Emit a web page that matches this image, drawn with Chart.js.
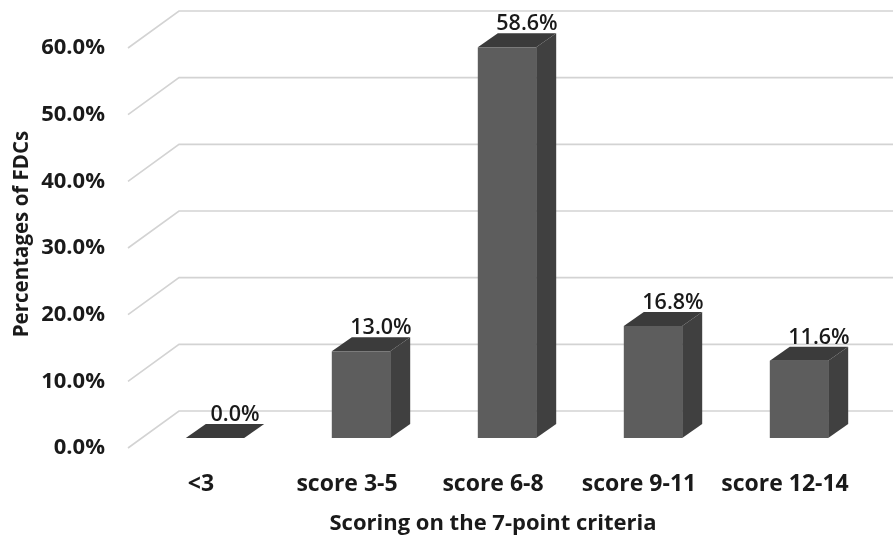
<!DOCTYPE html>
<html>
<head>
<meta charset="utf-8">
<script src="https://cdn.jsdelivr.net/npm/chart.js@4/dist/chart.umd.min.js"></script>
<style>
  html, body { margin: 0; padding: 0; background: #ffffff; }
  #wrap { width: 893px; height: 535px; position: relative; }
</style>
</head>
<body>
<div id="wrap"><canvas id="chart" width="893" height="535"></canvas></div>
<script>
// Share of FDCs per score band on the 7-point criteria
const categories = ['<3', 'score 3-5', 'score 6-8', 'score 9-11', 'score 12-14'];
const percentages = [0.0, 13.0, 58.6, 16.8, 11.6];
const yTicks = [0, 10, 20, 30, 40, 50, 60];
const xTitle = 'Scoring on the 7-point criteria';
const yTitle = 'Percentages of FDCs';

const TEXT = '#1a1a1a';
const FONT = '"Open Sans", "DejaVu Sans", sans-serif';

// 3D look: the floor/back wall recede up and to the right
const WALL = { dx: 51, dy: -37 };      // floor front edge -> back wall
const BAR_FRONT = { dx: 14, dy: -10 }; // floor front edge -> bar front face
const BAR_DEPTH = { dx: 20, dy: -14 }; // bar front face -> bar back face

const fmt = v => v.toFixed(1) + '%';

const box3d = {
  id: 'box3d',
  beforeDatasetsDraw(chart) {
    const { ctx, chartArea, scales } = chart;
    const y = scales.y;
    ctx.save();
    ctx.strokeStyle = '#d3d3d3';
    ctx.lineWidth = 1.6;
    yTicks.forEach(v => {
      const yf = y.getPixelForValue(v);
      ctx.beginPath();
      ctx.moveTo(chartArea.left, yf);
      ctx.lineTo(chartArea.left + WALL.dx, yf + WALL.dy);
      ctx.lineTo(chart.width, yf + WALL.dy);
      ctx.stroke();
    });
    ctx.restore();
  },
  afterDatasetsDraw(chart) {
    const { ctx } = chart;
    const meta = chart.getDatasetMeta(0);
    ctx.save();
    meta.data.forEach((bar, i) => {
      const p = bar.getProps(['x', 'y', 'base', 'width'], true);
      const xl = p.x - p.width / 2 + BAR_FRONT.dx;
      const xr = p.x + p.width / 2 + BAR_FRONT.dx;
      const top = p.y + BAR_FRONT.dy;
      const bot = p.base + BAR_FRONT.dy;
      const { dx, dy } = BAR_DEPTH;

      if (bot - top > 0.5) {
        // front face
        ctx.fillStyle = '#5d5d5d';
        ctx.fillRect(xl, top, xr - xl, bot - top);
        // right side
        ctx.fillStyle = '#404040';
        ctx.beginPath();
        ctx.moveTo(xr, top);
        ctx.lineTo(xr + dx, top + dy);
        ctx.lineTo(xr + dx, bot + dy);
        ctx.lineTo(xr, bot);
        ctx.closePath();
        ctx.fill();
      }
      // top face
      ctx.fillStyle = '#3b3b3b';
      ctx.beginPath();
      ctx.moveTo(xl, top);
      ctx.lineTo(xl + dx, top + dy);
      ctx.lineTo(xr + dx, top + dy);
      ctx.lineTo(xr, top);
      ctx.closePath();
      ctx.fill();

      // value label above the back edge of the top face
      ctx.fillStyle = TEXT;
      ctx.font = '600 21.5px ' + FONT;
      ctx.textAlign = 'center';
      ctx.textBaseline = 'alphabetic';
      ctx.fillText(fmt(percentages[i]), (xl + xr) / 2 + dx, top + dy - 3);
    });
    ctx.restore();
  },
  afterDraw(chart) {
    const { ctx } = chart;
    ctx.save();
    ctx.translate(22, 234);
    ctx.rotate(-Math.PI / 2);
    ctx.fillStyle = TEXT;
    ctx.font = 'bold 20.5px ' + FONT;
    ctx.textAlign = 'center';
    ctx.textBaseline = 'middle';
    ctx.fillText(yTitle, 0, 0);
    ctx.restore();
  }
};

new Chart(document.getElementById('chart'), {
  type: 'bar',
  data: {
    labels: categories,
    datasets: [{
      data: percentages,
      backgroundColor: 'rgba(0,0,0,0)',
      borderWidth: 0,
      categoryPercentage: 1.0,
      barPercentage: 0.4
    }]
  },
  options: {
    responsive: false,
    animation: false,
    devicePixelRatio: 1,
    layout: { padding: { top: 48, right: 35, left: 0, bottom: 0 } },
    plugins: {
      legend: { display: false },
      tooltip: { enabled: false }
    },
    scales: {
      x: {
        grid: { display: false, drawTicks: false },
        border: { display: false },
        ticks: {
          color: TEXT,
          font: { family: FONT, size: 23, weight: 'bold' },
          padding: 23,
          maxRotation: 0
        },
        title: {
          display: true,
          text: xTitle,
          color: TEXT,
          font: { family: FONT, size: 22, weight: 'bold', lineHeight: 1.0 },
          padding: { top: 0, bottom: 0 }
        },
        afterFit(scale) { scale.height = 87; }
      },
      y: {
        min: 0,
        max: 60,
        grid: { display: false, drawTicks: false },
        border: { display: false },
        afterBuildTicks(scale) { scale.ticks = yTicks.map(v => ({ value: v })); },
        ticks: {
          color: TEXT,
          font: { family: FONT, size: 22, weight: 'bold' },
          padding: 23,
          callback: v => fmt(v)
        },
        afterFit(scale) { scale.width = 128; }
      }
    }
  },
  plugins: [box3d]
});
</script>
</body>
</html>
